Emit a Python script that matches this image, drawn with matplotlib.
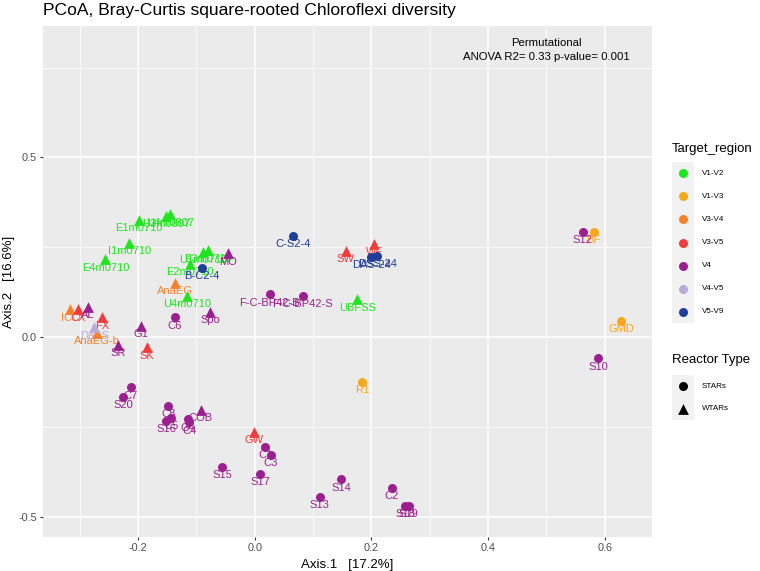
"""PCoA ordination of Chloroflexi communities, Bray-Curtis on square-rooted data."""

import matplotlib

matplotlib.use("Agg")

import matplotlib.pyplot as plt
from matplotlib.patches import Rectangle

plt.rcParams["font.family"] = ["Liberation Sans", "DejaVu Sans"]

W, H = 760, 571

REGIONS = ["V1-V2", "V1-V3", "V3-V4", "V3-V5", "V4", "V4-V5", "V5-V9"]
REGION_COLORS = ["#1FE51F", "#FAA61A", "#F5822A", "#EF3D3D", "#9C1F8F", "#BBA9D7", "#1F3D99"]
REACTORS = ["STARs", "WTARs"]
REACTOR_MARKERS = ["o", "^"]

sample_names = [
    "E1m0710", "U3m0807", "U4m0807", "I1m0710", "E4m0710", "U1m0710", "E3m0710",
    "E2m0710", "U4m0710", "UBFSS",
    "R1", "GMD", "BF",
    "AnaEG", "ICO", "AnaEG-b",
    "CX", "FX", "SK", "GW", "SW", "WF",
    "AL", "G1", "SR", "MO", "Spo", "COB",
    "C6", "F-C-BP42-B", "F-C-BP42-S", "C7", "S20", "C8", "S16", "C5", "G4", "C4",
    "S15", "C1", "C3", "S17", "S14", "S13", "C2", "S18", "S19", "S12", "S10",
    "DaSS",
    "B-C2-4", "C-S2-4", "DAS-24", "DSS-24",
]
axis1 = [
    -0.199, -0.152, -0.145, -0.215, -0.256, -0.088, -0.081,
    -0.111, -0.116, 0.176,
    0.184, 0.628, 0.581,
    -0.137, -0.316, -0.270,
    -0.303, -0.262, -0.185, -0.001, 0.156, 0.205,
    -0.286, -0.195, -0.234, -0.046, -0.076, -0.093,
    -0.137, 0.026, 0.082, -0.213, -0.226, -0.148, -0.152, -0.143, -0.115, -0.112,
    -0.056, 0.018, 0.027, 0.009, 0.148, 0.111, 0.235, 0.258, 0.264, 0.562, 0.589,
    -0.275,
    -0.091, 0.066, 0.200, 0.210,
]
axis2 = [
    0.326, 0.337, 0.342, 0.263, 0.216, 0.238, 0.241,
    0.203, 0.114, 0.105,
    -0.124, 0.045, 0.292,
    0.151, 0.077, 0.012,
    0.077, 0.055, -0.029, -0.265, 0.240, 0.259,
    0.084, 0.031, -0.022, 0.233, 0.070, -0.203,
    0.055, 0.119, 0.114, -0.140, -0.166, -0.192, -0.233, -0.225, -0.229, -0.238,
    -0.362, -0.306, -0.329, -0.382, -0.396, -0.445, -0.420, -0.471, -0.471, 0.293, -0.059,
    0.027,
    0.193, 0.281, 0.224, 0.226,
]
target_region = (
    ["V1-V2"] * 10 + ["V1-V3"] * 3 + ["V3-V4"] * 3 + ["V3-V5"] * 6
    + ["V4"] * 6 + ["V4"] * 21 + ["V4-V5"] + ["V5-V9"] * 4
)
reactor_type = (
    ["WTARs"] * 10 + ["STARs"] * 3 + ["WTARs"] * 3 + ["WTARs"] * 6
    + ["WTARs"] * 6 + ["STARs"] * 21 + ["WTARs"] + ["STARs"] * 4
)

x_major = [-0.2, 0.0, 0.2, 0.4, 0.6]
x_major_labels = ["-0.2", "0.0", "0.2", "0.4", "0.6"]
x_minor = [-0.3, -0.1, 0.1, 0.3, 0.5]
y_major = [-0.5, 0.0, 0.5]
y_major_labels = ["-0.5", "0.0", "0.5"]
y_minor = [-0.25, 0.25, 0.75]

TITLE = "PCoA, Bray-Curtis square-rooted Chloroflexi diversity"
ANNOTATION = "Permutational\nANOVA R2= 0.33 p-value= 0.001"


def main() -> None:
    fig = plt.figure(figsize=(W / 100, H / 100), dpi=100)
    # panel in pixel coords: left 43, right 652, top 26, bottom 537
    ax = fig.add_axes([43 / W, 1 - 537 / H, (652 - 43) / W, (537 - 26) / H])
    ax.set_facecolor("#EBEBEB")
    for s in ax.spines.values():
        s.set_visible(False)

    ax.set_xlim(-0.363, 0.681)
    ax.set_ylim(-0.557, 0.866)
    ax.set_xticks(x_major)
    ax.set_xticklabels(x_major_labels)
    ax.set_xticks(x_minor, minor=True)
    ax.set_yticks(y_major)
    ax.set_yticklabels(y_major_labels)
    ax.set_yticks(y_minor, minor=True)
    ax.grid(which="major", color="white", linewidth=1.1)
    ax.grid(which="minor", color="white", linewidth=0.55)
    ax.set_axisbelow(True)
    ax.tick_params(which="major", length=2.2, width=0.8, color="#333333",
                   labelsize=7.8, labelcolor="#4D4D4D", pad=2.2)
    ax.tick_params(which="minor", length=0)

    for name, x, y, reg, rt in zip(sample_names, axis1, axis2, target_region, reactor_type):
        color = REGION_COLORS[REGIONS.index(reg)]
        marker = REACTOR_MARKERS[REACTORS.index(rt)]
        size = 42 if marker == "o" else 60
        ax.scatter(x, y, s=size, marker=marker, color=color, linewidths=0, zorder=4)
        ax.annotate(name, (x, y), xytext=(0, -6.0), textcoords="offset points",
                    ha="center", va="center", fontsize=8, color=color, zorder=3)

    ax.text(0.5, 0.8, ANNOTATION, ha="center", va="center", fontsize=8.2,
            linespacing=1.45, color="black", zorder=5)

    ax.set_xlabel("Axis.1   [17.2%]", fontsize=9.5, labelpad=4)
    ax.set_ylabel("Axis.2   [16.6%]", fontsize=9.5, labelpad=2)
    fig.text(43 / W, 1 - 11 / H, TITLE, fontsize=12.6, ha="left", va="center")

    # legends drawn in pixel coordinates on an overlay axes
    lax = fig.add_axes([0, 0, 1, 1])
    lax.set_xlim(0, W)
    lax.set_ylim(H, 0)
    lax.axis("off")

    lax.text(672, 149, "Target_region", fontsize=9.5, ha="left", va="center")
    key_h = 23.1
    top = 161.7
    for i, (reg, col) in enumerate(zip(REGIONS, REGION_COLORS)):
        lax.add_patch(Rectangle((672, top + i * key_h), 21.6, key_h,
                                facecolor="#F2F2F2", edgecolor="none"))
        cy = top + (i + 0.5) * key_h
        lax.scatter(682.5, cy, s=42, marker="o", color=col, linewidths=0, zorder=3)
        lax.text(702, cy, reg, fontsize=5.8, ha="left", va="center")

    lax.text(672, 360, "Reactor Type", fontsize=9.5, ha="left", va="center")
    top2 = 375
    for i, (rt, mk) in enumerate(zip(REACTORS, REACTOR_MARKERS)):
        lax.add_patch(Rectangle((672, top2 + i * 22.5), 21.6, 22.5,
                                facecolor="#F2F2F2", edgecolor="none"))
        cy = top2 + (i + 0.5) * 22.5
        lax.scatter(682.5, cy, s=42 if mk == "o" else 60, marker=mk,
                    color="black", linewidths=0, zorder=3)
        lax.text(702, cy, rt, fontsize=5.8, ha="left", va="center")

    fig.savefig("out.png", dpi=100)
    plt.close(fig)


if __name__ == "__main__":
    main()
